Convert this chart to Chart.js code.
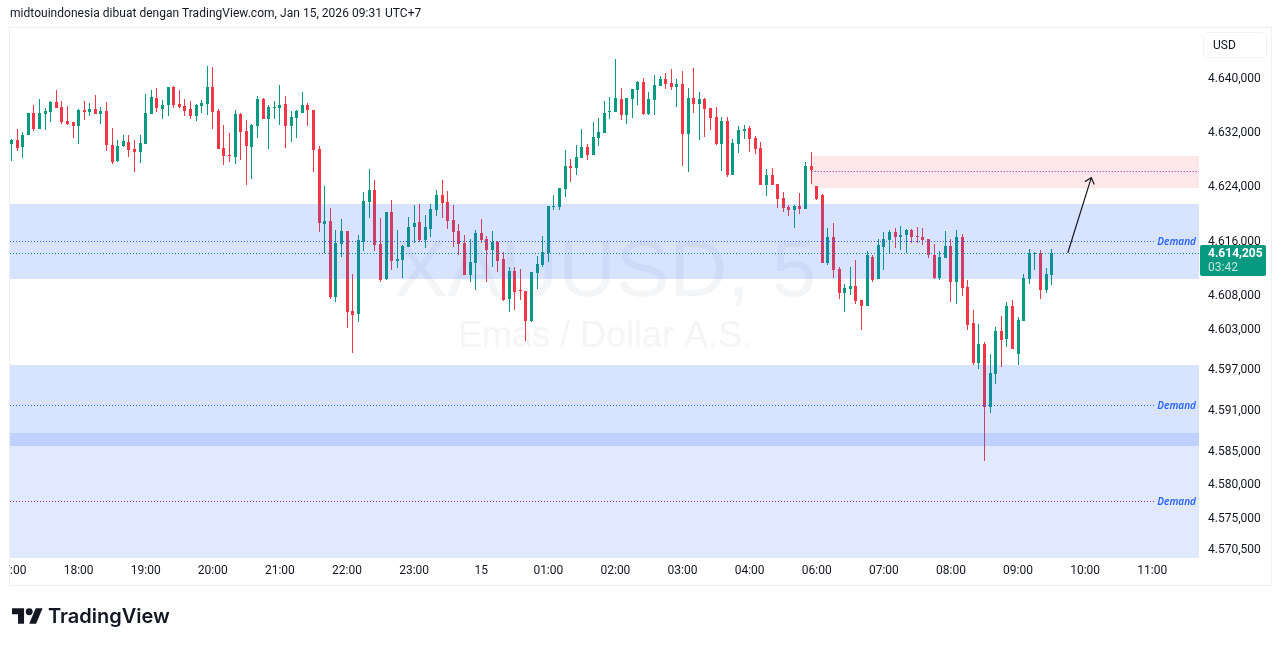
<!DOCTYPE html>
<html>
<head>
<meta charset="utf-8">
<script src="https://cdn.jsdelivr.net/npm/chart.js@4"></script>
<style>
html, body { margin: 0; padding: 0; background: #fff; overflow: hidden; }
body { width: 1281px; height: 646px; position: relative; font-family: Roboto, sans-serif; color: #131722; }
#frame { position: absolute; left: 9px; top: 27px; width: 1261px; height: 557px; border: 1px solid #f0f0f0; }
#chartbox { position: absolute; left: 0; top: 0; width: 1281px; height: 646px; }
#title { position: absolute; left: 10px; top: 6px; font-size: 12px; line-height: 14px; white-space: nowrap; letter-spacing: 0.03px; }
#usd { position: absolute; left: 1203px; top: 32px; width: 62px; height: 24px; border: 1px solid #f0f3fa; border-radius: 4px; font-size: 12px; line-height: 24px; text-indent: 9px; }
#logo { position: absolute; left: 12px; top: 608px; }
#brand { position: absolute; left: 48px; top: 603px; font-family: Inter, sans-serif; font-size: 20px; font-weight: 600; line-height: 26px; letter-spacing: 0px; color: #131722; }
</style>
</head>
<body>
<div id="frame"></div>
<div id="chartbox"><canvas id="candles" width="1281" height="646"></canvas></div>
<div id="title">midtouindonesia dibuat dengan TradingView.com, Jan 15, 2026 09:31 UTC+7</div>
<div id="usd">USD</div>
<svg id="logo" width="31" height="16" viewBox="0 4 36 18"><path fill="#131722" d="M14 22H7V11H0V4h14v18zM28 22h-8l7.5-18h8L28 22z"/><circle fill="#131722" cx="20" cy="8" r="4"/></svg>
<div id="brand">TradingView</div>
<script>
const opens = [4630.26,4630.85,4629.81,4631.58,4634.83,4632.47,4634.68,4634.98,4636.45,4635.72,4633.65,4633.50,4632.91,4635.27,4634.98,4635.42,4634.68,4635.13,4630.11,4627.75,4629.96,4630.55,4629.52,4629.08,4630.26,4634.68,4637.05,4635.42,4636.01,4638.67,4636.16,4635.86,4635.42,4634.39,4635.86,4636.16,4638.67,4635.13,4629.67,4628.63,4628.34,4634.68,4632.17,4629.81,4632.91,4636.90,4633.95,4635.57,4635.57,4636.16,4632.91,4634.09,4634.83,4636.01,4635.27,4629.52,4618.45,4618.90,4607.68,4615.50,4617.42,4605.61,4605.17,4615.80,4621.70,4623.47,4615.50,4610.34,4620.22,4612.99,4613.14,4615.06,4618.01,4618.75,4616.09,4617.72,4620.52,4622.73,4621.70,4619.04,4617.42,4615.65,4610.93,4612.70,4617.13,4616.24,4614.62,4615.80,4613.29,4607.38,4611.52,4608.71,4608.56,4604.14,4611.22,4612.40,4614.17,4620.96,4620.96,4623.61,4627.01,4626.71,4628.19,4629.81,4628.63,4631.14,4631.88,4634.98,4634.98,4636.90,4634.54,4636.90,4638.23,4639.41,4634.68,4636.75,4638.82,4639.85,4639.26,4638.67,4639.11,4631.73,4637.05,4636.16,4636.90,4635.57,4634.24,4630.26,4633.65,4625.68,4630.26,4632.17,4632.62,4631.14,4629.67,4624.20,4625.68,4624.35,4622.29,4620.96,4620.51,4621.10,4620.66,4627.01,4624.06,4622.73,4612.70,4616.53,4611.81,4608.27,4608.86,4609.30,4607.23,4606.35,4613.58,4610.33,4615.06,4616.09,4617.27,4616.53,4616.83,4617.57,4616.68,4616.53,4616.24,4613.88,4610.48,4613.43,4615.20,4609.89,4616.53,4609.15,4603.83,4597.93,4600.73,4591.44,4596.31,4602.65,4601.47,4606.34,4599.26,4604.13,4610.33,4614.02,4614.17,4608.70,4610.92];
const highs = [4630.99,4632.47,4632.03,4634.83,4636.01,4636.90,4635.57,4636.60,4638.23,4636.60,4635.86,4633.50,4635.42,4636.60,4636.31,4637.49,4635.72,4636.45,4632.62,4630.85,4631.58,4631.58,4630.85,4631.58,4637.64,4638.23,4638.52,4636.75,4638.67,4638.82,4638.23,4636.90,4636.60,4636.16,4636.75,4641.77,4641.62,4635.42,4633.06,4631.88,4635.27,4634.83,4633.80,4633.21,4637.34,4637.05,4636.01,4636.60,4638.96,4637.34,4635.13,4635.27,4637.93,4636.31,4635.27,4629.96,4624.06,4620.82,4617.57,4619.19,4617.42,4611.07,4616.83,4623.18,4626.57,4624.95,4619.34,4620.22,4622.00,4617.57,4615.35,4619.49,4621.26,4621.41,4619.78,4621.41,4623.47,4624.95,4623.32,4621.26,4618.45,4616.83,4616.24,4617.57,4619.19,4616.68,4617.42,4615.94,4614.32,4612.11,4612.11,4611.81,4608.56,4611.37,4613.73,4616.68,4621.11,4622.73,4623.76,4629.37,4628.04,4630.11,4632.47,4630.26,4633.50,4634.09,4636.60,4637.19,4642.80,4638.52,4637.05,4638.37,4639.55,4640.00,4637.93,4640.44,4640.29,4640.74,4641.33,4639.85,4641.03,4638.52,4641.47,4637.93,4637.05,4635.57,4635.72,4634.24,4634.24,4630.99,4632.91,4633.06,4632.91,4631.44,4630.55,4626.57,4626.71,4624.35,4623.17,4621.25,4621.25,4623.02,4627.60,4629.08,4624.06,4622.88,4617.86,4618.60,4612.11,4609.60,4612.11,4613.14,4607.23,4614.47,4613.88,4616.24,4617.27,4617.57,4617.86,4618.16,4617.71,4617.71,4618.01,4617.86,4616.24,4615.50,4614.47,4617.42,4616.23,4617.57,4616.97,4610.18,4605.75,4603.69,4601.03,4599.26,4603.24,4604.87,4606.93,4607.23,4604.72,4611.07,4614.76,4614.31,4614.61,4611.95,4614.76];
const lows = [4627.75,4629.22,4628.19,4631.58,4632.17,4632.47,4632.32,4633.50,4635.57,4633.21,4633.06,4631.14,4630.26,4633.80,4634.39,4634.68,4633.21,4629.22,4627.30,4627.60,4629.81,4628.34,4626.12,4627.45,4630.26,4634.68,4634.98,4633.95,4634.39,4635.57,4635.57,4634.39,4633.95,4633.65,4634.83,4634.54,4632.47,4629.52,4627.16,4627.60,4627.30,4627.89,4624.20,4625.09,4631.14,4633.95,4629.52,4633.95,4633.06,4629.67,4630.55,4631.14,4634.83,4632.91,4626.12,4617.27,4614.17,4607.38,4606.94,4613.58,4603.10,4599.41,4603.99,4614.47,4619.34,4614.47,4609.89,4610.19,4611.66,4611.96,4610.48,4615.06,4615.65,4615.80,4614.91,4616.54,4619.63,4619.34,4617.72,4615.06,4613.88,4610.93,4609.89,4608.71,4615.65,4609.89,4612.11,4611.37,4607.09,4605.47,4605.76,4607.24,4601.18,4603.99,4608.86,4612.11,4612.85,4620.51,4620.51,4622.43,4624.65,4625.68,4628.19,4627.89,4628.63,4629.96,4631.88,4633.95,4634.98,4633.80,4633.21,4634.09,4636.01,4634.54,4634.54,4634.54,4638.82,4638.37,4638.23,4635.72,4627.01,4626.12,4634.83,4630.85,4631.29,4632.32,4630.11,4626.27,4625.39,4625.68,4628.93,4630.99,4629.08,4628.78,4624.20,4622.58,4624.20,4620.81,4620.22,4619.63,4617.86,4619.92,4620.66,4624.35,4621.99,4612.70,4612.40,4610.48,4607.38,4605.46,4607.97,4606.64,4602.81,4606.35,4609.89,4610.33,4611.66,4614.02,4614.91,4614.61,4614.17,4615.65,4615.65,4615.35,4613.43,4610.33,4610.19,4613.43,4606.93,4606.64,4607.82,4602.80,4597.63,4597.04,4583.46,4590.55,4594.83,4597.34,4600.29,4600.00,4597.63,4604.13,4609.59,4611.66,4607.38,4608.26,4609.44];
const closes = [4630.85,4629.67,4631.58,4634.83,4632.47,4634.83,4635.13,4636.45,4635.57,4633.50,4633.21,4632.91,4635.27,4634.98,4635.42,4634.68,4635.13,4630.11,4627.60,4629.96,4630.70,4629.37,4629.08,4630.40,4634.83,4637.19,4635.57,4636.01,4638.67,4636.01,4635.72,4635.13,4634.39,4636.01,4636.31,4638.67,4634.98,4629.52,4628.48,4628.48,4634.68,4632.03,4629.96,4633.06,4636.90,4633.95,4635.72,4635.72,4636.01,4632.91,4634.24,4635.13,4636.01,4635.27,4629.37,4618.60,4618.90,4607.68,4615.65,4617.42,4605.47,4605.02,4616.09,4621.85,4623.47,4615.35,4610.19,4620.22,4612.99,4613.29,4615.21,4618.01,4618.60,4616.09,4618.01,4620.67,4622.73,4621.55,4618.90,4617.27,4615.50,4610.93,4612.85,4617.13,4616.09,4614.62,4615.80,4612.99,4607.24,4611.52,4608.42,4608.56,4604.14,4611.37,4612.55,4614.32,4621.11,4621.10,4623.76,4627.01,4626.71,4628.34,4629.81,4628.63,4631.29,4632.03,4634.83,4635.13,4637.05,4634.54,4637.05,4638.37,4639.41,4634.68,4636.90,4638.96,4639.85,4639.11,4638.67,4639.11,4631.73,4637.05,4636.16,4636.90,4635.42,4634.09,4630.26,4633.65,4625.68,4630.40,4632.32,4632.47,4630.99,4629.52,4624.20,4625.68,4624.20,4622.14,4620.81,4620.51,4621.10,4620.66,4627.01,4626.42,4622.14,4612.70,4616.53,4611.66,4608.27,4609.01,4609.30,4607.09,4606.35,4613.88,4610.19,4615.35,4616.24,4617.27,4616.53,4616.83,4617.57,4616.53,4616.53,4616.09,4613.88,4610.48,4613.58,4615.20,4609.89,4616.53,4609.00,4603.54,4597.93,4600.73,4591.44,4596.45,4602.65,4601.32,4606.34,4600.00,4604.28,4610.48,4614.17,4614.17,4608.70,4611.07,4614.205];

const hourIndex = [0,12,24,36,48,60,72,84,96,108,120,132,144,156,168,180,192,204];
const hourLabels = ['17:00','18:00','19:00','20:00','21:00','22:00','23:00','15','01:00','02:00','03:00','04:00','06:00','07:00','08:00','09:00','10:00','11:00'];
const priceTicks = [4640,4632,4624,4616,4608,4603,4597,4591,4585,4580,4575,4570.5];
const priceLabels = ['4.640,000','4.632,000','4.624,000','4.616,000','4.608,000','4.603,000','4.597,000','4.591,000','4.585,000','4.580,000','4.575,000','4.570,500'];

// zones: top price, bottom price, first bar index (null = from the left edge)
const zoneTops = [4628.49,4621.40,4597.64,4587.60];
const zoneBottoms = [4623.76,4610.33,4585.68,4569.15];
const zoneStarts = [143.1,null,null,null];
const zoneColors = ['rgba(242,54,69,0.12)','rgba(41,98,255,0.18)','rgba(41,98,255,0.18)','rgba(41,98,255,0.14)'];

const levelPrices = [4626.27,4615.94,4591.73,4577.56];
const levelStarts = [143.1,null,null,null];
const levelColors = ['#9c27b0','#2962ff','#2962ff','#9c27b0'];
const levelTags = ['','Demand','Demand','Demand'];

const lastPrice = 4614.205;
const arrowBars = [188.9,193.1];
const arrowPrices = [4614.2,4625.3];

const upColor = '#089981';
const downColor = '#f23645';
const barColors = closes.map((c, i) => c >= opens[i] ? upColor : downColor);
const wickData = lows.map((l, i) => ({ x: i, y: [l, highs[i]] }));
const bodyData = opens.map((o, i) => ({ x: i, y: [o, closes[i]] }));

const snapBars = {
    id: 'snapBars',
    afterDatasetsUpdate(chart) {
        chart.data.datasets.forEach((ds, n) => {
            chart.getDatasetMeta(n).data.forEach(el => {
                el.x = Math.floor(el.x) + 0.5;
                const top = Math.round(Math.min(el.y, el.base));
                let bottom = Math.round(Math.max(el.y, el.base));
                if (bottom <= top) bottom = top + 1;
                el.y = top;
                el.base = bottom;
            });
        });
    }
};

const watermark = {
    id: 'watermark',
    beforeDatasetsDraw(chart) {
        const ctx = chart.ctx;
        ctx.save();
        ctx.fillStyle = '#f4f5f7';
        ctx.textAlign = 'center';
        ctx.textBaseline = 'alphabetic';
        ctx.font = '80px "Liberation Sans"';
        ctx.fillText('XAUUSD, 5', 605, 296);
        ctx.font = '36px "Liberation Sans"';
        ctx.fillText('Emas / Dollar A.S.', 605, 347);
        ctx.restore();
    }
};

const drawings = {
    id: 'drawings',
    afterDatasetsDraw(chart) {
        const { ctx, chartArea: area, scales: { x, y } } = chart;
        ctx.save();
        // last price line sits under the zones, so it gets tinted too
        const lastY = Math.round(y.getPixelForValue(lastPrice)) + 0.5;
        ctx.strokeStyle = upColor;
        ctx.lineWidth = 1;
        ctx.setLineDash([1, 2]);
        ctx.beginPath();
        ctx.moveTo(area.left, lastY);
        ctx.lineTo(area.right, lastY);
        ctx.stroke();
        zoneTops.forEach((top, i) => {
            const left = zoneStarts[i] === null ? area.left : x.getPixelForValue(zoneStarts[i]);
            const y1 = Math.round(y.getPixelForValue(top));
            const y2 = Math.round(y.getPixelForValue(zoneBottoms[i]));
            ctx.fillStyle = zoneColors[i];
            ctx.fillRect(left, y1, area.right - left, y2 - y1);
        });
        levelPrices.forEach((p, i) => {
            const left = levelStarts[i] === null ? area.left : x.getPixelForValue(levelStarts[i]);
            const right = levelTags[i] ? 1154 : area.right;
            const py = Math.round(y.getPixelForValue(p)) + 0.5;
            ctx.strokeStyle = levelColors[i];
            ctx.setLineDash([1, 2]);
            ctx.beginPath();
            ctx.moveTo(left, py);
            ctx.lineTo(right, py);
            ctx.stroke();
            if (levelTags[i]) {
                ctx.fillStyle = '#2962ff';
                ctx.font = 'italic 600 10px "Noto Sans"';
                ctx.textAlign = 'right';
                ctx.textBaseline = 'middle';
                ctx.fillText(levelTags[i], 1196, py + 1);
            }
        });
        ctx.setLineDash([]);
        // arrow
        const ax = x.getPixelForValue(arrowBars[0]), ay = y.getPixelForValue(arrowPrices[0]);
        const bx = x.getPixelForValue(arrowBars[1]), by = y.getPixelForValue(arrowPrices[1]);
        const ang = Math.atan2(by - ay, bx - ax);
        ctx.strokeStyle = '#131722';
        ctx.lineWidth = 1.2;
        ctx.beginPath();
        ctx.moveTo(ax, ay);
        ctx.lineTo(bx, by);
        ctx.moveTo(bx - 7.5 * Math.cos(ang - 0.7), by - 7.5 * Math.sin(ang - 0.7));
        ctx.lineTo(bx, by);
        ctx.lineTo(bx - 7.5 * Math.cos(ang + 0.7), by - 7.5 * Math.sin(ang + 0.7));
        ctx.stroke();
        ctx.restore();
    },
    afterDraw(chart) {
        const { ctx, scales: { y } } = chart;
        ctx.save();
        // the first time label is cut at the pane edge
        ctx.clearRect(0, 560, 9, 24);
        const py = Math.round(y.getPixelForValue(lastPrice));
        ctx.fillStyle = upColor;
        ctx.beginPath();
        ctx.roundRect(1200, py - 8, 66, 31, 2);
        ctx.fill();
        ctx.textAlign = 'left';
        ctx.textBaseline = 'middle';
        ctx.fillStyle = '#ffffff';
        ctx.font = 'bold 12px Roboto';
        ctx.fillText('4.614,205', 1208, py + 1);
        ctx.fillStyle = 'rgba(255,255,255,0.75)';
        ctx.font = '12px Roboto';
        ctx.fillText('03:42', 1208, py + 15);
        ctx.restore();
    }
};

const candleChart = new Chart(document.getElementById('candles').getContext('2d'), {
    type: 'bar',
    data: {
        datasets: [{
            data: wickData,
            backgroundColor: barColors,
            barThickness: 1,
            minBarLength: 1,
            inflateAmount: 0,
            borderWidth: 0,
            grouped: false
        }, {
            data: bodyData,
            backgroundColor: barColors,
            barThickness: 3,
            minBarLength: 1,
            inflateAmount: 0,
            borderWidth: 0,
            grouped: false
        }]
    },
    options: {
        responsive: false,
        animation: false,
        layout: { padding: { left: 10, top: 28, right: 0, bottom: 0 } },
        plugins: { legend: { display: false }, tooltip: { enabled: false } },
        scales: {
            x: {
                type: 'linear',
                offset: false,
                min: -0.268,
                max: 212.36,
                grid: { display: false, drawTicks: false },
                border: { display: false },
                afterBuildTicks(scale) { scale.ticks = hourIndex.map(v => ({ value: v })); },
                afterFit(scale) { scale.height = 88; scale.paddingLeft = 0; scale.paddingRight = 0; },
                ticks: {
                    autoSkip: false,
                    maxRotation: 0,
                    padding: 6,
                    color: '#131722',
                    font: { family: 'Roboto', size: 12 },
                    callback: v => hourLabels[hourIndex.indexOf(v)]
                }
            },
            y: {
                position: 'right',
                min: 4569.15,
                max: 4647.38,
                grid: { display: false, drawTicks: false },
                border: { display: false },
                afterBuildTicks(scale) { scale.ticks = priceTicks.map(v => ({ value: v })); },
                afterFit(scale) { scale.width = 82; scale.paddingTop = 0; scale.paddingBottom = 0; },
                ticks: {
                    autoSkip: false,
                    padding: 9,
                    labelOffset: 1,
                    color: '#131722',
                    font: { family: 'Roboto', size: 12 },
                    callback: v => priceLabels[priceTicks.indexOf(v)]
                }
            }
        }
    },
    plugins: [snapBars, watermark, drawings]
});
</script>
</body>
</html>
